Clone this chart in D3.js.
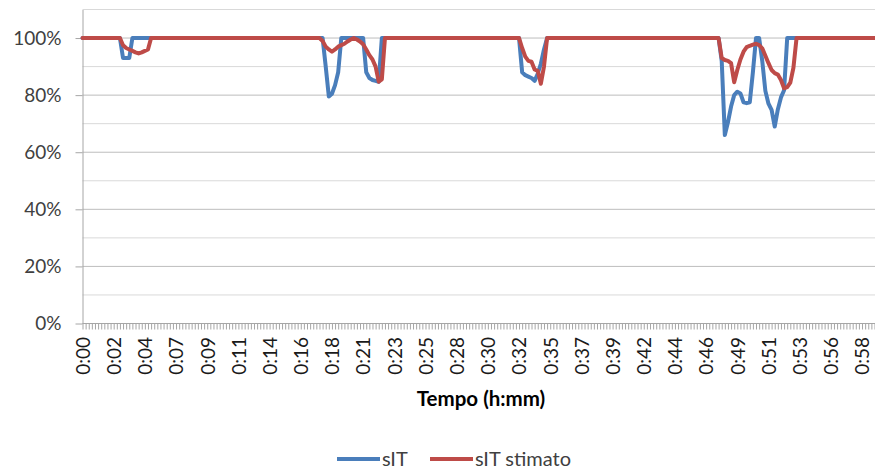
<!DOCTYPE html>
<html>
<head>
<meta charset="utf-8">
<script src="https://cdn.jsdelivr.net/npm/d3@7/dist/d3.min.js"></script>
<style>
  html, body { margin: 0; padding: 0; background: #fff; }
  svg { display: block; font-family: Lato, "Open Sans", sans-serif; }
</style>
</head>
<body>
<svg id="chart" width="875" height="472"></svg>
<script>
// Tick labels shown on every 10th sample (h:mm)
const tickLabels = ["0:00","0:02","0:04","0:07","0:09","0:11","0:14","0:16","0:18","0:21",
  "0:23","0:25","0:28","0:30","0:32","0:35","0:37","0:39","0:42","0:44",
  "0:46","0:49","0:51","0:53","0:56","0:58"];

const seriesNames = ["sIT", "sIT stimato"];

// sIT, one row per 10 samples
const sIT = [
  100,100,100,100,100,100,100,100,100,100,
  100,100,100, 93, 93, 93,100,100,100,100,
  100,100,100,100,100,100,100,100,100,100,
  100,100,100,100,100,100,100,100,100,100,
  100,100,100,100,100,100,100,100,100,100,
  100,100,100,100,100,100,100,100,100,100,
  100,100,100,100,100,100,100,100,100,100,
  100,100,100,100,100,100,100,100, 90, 79.5,
  80.5,83.5,88,100,100,100,100,100,100,100,
  100, 88, 86, 85.3,85, 84.7,100,100,100,100,
  100,100,100,100,100,100,100,100,100,100,
  100,100,100,100,100,100,100,100,100,100,
  100,100,100,100,100,100,100,100,100,100,
  100,100,100,100,100,100,100,100,100,100,
  100, 88, 87, 86.5,86, 85, 87.5,91, 96,100,
  100,100,100,100,100,100,100,100,100,100,
  100,100,100,100,100,100,100,100,100,100,
  100,100,100,100,100,100,100,100,100,100,
  100,100,100,100,100,100,100,100,100,100,
  100,100,100,100,100,100,100,100,100,100,
  100,100,100,100,100, 92, 66, 70.5,76, 80,
  81.2,80.6,77.5,77.2,77.5,88,100,100, 92, 81.5,
  77, 74.8,69, 75, 79.2,81.7,100,100,100,100,
  100,100,100,100,100,100,100,100,100,100,
  100,100,100,100,100,100,100,100,100,100,
  100,100,100,100,100
];

// sIT stimato, one row per 10 samples
const sITstimato = [
  100,100,100,100,100,100,100,100,100,100,
  100,100,100, 97.5,96.5,96, 95.5,95, 94.6,95,
  95.5,96,100,100,100,100,100,100,100,100,
  100,100,100,100,100,100,100,100,100,100,
  100,100,100,100,100,100,100,100,100,100,
  100,100,100,100,100,100,100,100,100,100,
  100,100,100,100,100,100,100,100,100,100,
  100,100,100,100,100,100,100, 99, 97, 96,
  95.2,96, 97, 97.5,98, 98.8,99.5,100, 99.5,98.8,
  97.8,96, 94, 92.5,90, 84.7,85.5,100,100,100,
  100,100,100,100,100,100,100,100,100,100,
  100,100,100,100,100,100,100,100,100,100,
  100,100,100,100,100,100,100,100,100,100,
  100,100,100,100,100,100,100,100,100,100,
  100, 96.5,93.5,92, 91.7,89, 88.5,84, 90,100,
  100,100,100,100,100,100,100,100,100,100,
  100,100,100,100,100,100,100,100,100,100,
  100,100,100,100,100,100,100,100,100,100,
  100,100,100,100,100,100,100,100,100,100,
  100,100,100,100,100,100,100,100,100,100,
  100,100,100,100,100, 93, 92.3,92, 91.2,84.5,
  88.8,92.5,95.2,96.8,97.3,97.7,98, 97.5,96.4,93.8,
  91.2,88.8,87.7,87.2,85.3,82.4,82.8,84.4,89.6,100,
  100,100,100,100,100,100,100,100,100,100,
  100,100,100,100,100,100,100,100,100,100,
  100,100,100,100,100
];

const colors = ["#4a7ebb", "#be4b48"];
const N = sIT.length;

const svg = d3.select("#chart");

const x = d3.scaleLinear().domain([0, N - 1]).range([82.5, 874.5]);
const y = d3.scaleLinear().domain([0, 110]).range([323.5, 9.5]);

// horizontal gridlines: darker every 20%, lighter in between
const gridVals = d3.range(10, 111, 10);
svg.append("g").selectAll("line").data(gridVals).join("line")
  .attr("x1", x(0)).attr("x2", 875)
  .attr("y1", d => y(d)).attr("y2", d => y(d))
  .attr("stroke", d => d % 20 === 0 ? "#bdbdbd" : "#d9d9d9")
  .attr("stroke-width", 1);

// x axis: a tick on every sample, a label on every 10th
const xAxis = d3.axisBottom(x)
  .tickValues(d3.range(0, N))
  .tickSize(6)
  .tickSizeOuter(0)
  .tickFormat(i => i % 10 === 0 ? tickLabels[i / 10] : "");
const gx = svg.append("g").attr("transform", `translate(0,${y(0)})`).call(xAxis);
gx.select(".domain").attr("stroke", "#a6a6a6").attr("d", `M${x(0)},0H875`);
gx.selectAll(".tick line").attr("stroke", "#a6a6a6");
gx.selectAll(".tick text")
  .attr("font-family", "Lato, sans-serif")
  .attr("font-size", 19)
  .attr("fill", "#1a1a1a")
  .attr("text-anchor", "end")
  .attr("transform", "translate(0,13.5) rotate(-90)")
  .attr("x", 0).attr("y", 0).attr("dy", "0.36em");

// y axis
const yAxis = d3.axisLeft(y)
  .tickValues(d3.range(0, 101, 20))
  .tickSize(7)
  .tickSizeOuter(0)
  .tickFormat(d => d + "%");
const gy = svg.append("g").attr("transform", `translate(${x(0)},0)`).call(yAxis);
gy.select(".domain").attr("stroke", "#a6a6a6");
gy.selectAll(".tick line").attr("stroke", "#a6a6a6");
gy.selectAll(".tick text")
  .attr("font-family", "Lato, sans-serif")
  .attr("font-size", 19)
  .attr("fill", "#404040")
  .attr("x", -21);

// series lines
const line = d3.line().x((d, i) => x(i)).y(d => y(d));
[sIT, sITstimato].forEach((vals, k) => {
  svg.append("path")
    .datum(vals)
    .attr("d", line)
    .attr("fill", "none")
    .attr("stroke", colors[k])
    .attr("stroke-width", 4)
    .attr("stroke-linejoin", "round")
    .attr("stroke-linecap", "round");
});

// axis title
svg.append("text")
  .attr("x", 481).attr("y", 406)
  .attr("text-anchor", "middle")
  .attr("font-family", "Lato, sans-serif")
  .attr("font-weight", "bold")
  .attr("font-size", 20.5)
  .attr("fill", "#000")
  .text("Tempo (h:mm)");

// legend
const legendItems = [
  { name: seriesNames[0], color: colors[0], x0: 337 },
  { name: seriesNames[1], color: colors[1], x0: 430 }
];
const lg = svg.append("g");
legendItems.forEach(it => {
  lg.append("line")
    .attr("x1", it.x0).attr("x2", it.x0 + 43)
    .attr("y1", 459).attr("y2", 459)
    .attr("stroke", it.color).attr("stroke-width", 4);
  lg.append("text")
    .attr("x", it.x0 + 45).attr("y", 466)
    .attr("font-family", "Lato, sans-serif")
    .attr("font-size", 20)
    .attr("fill", "#404040")
    .text(it.name);
});
</script>
</body>
</html>
